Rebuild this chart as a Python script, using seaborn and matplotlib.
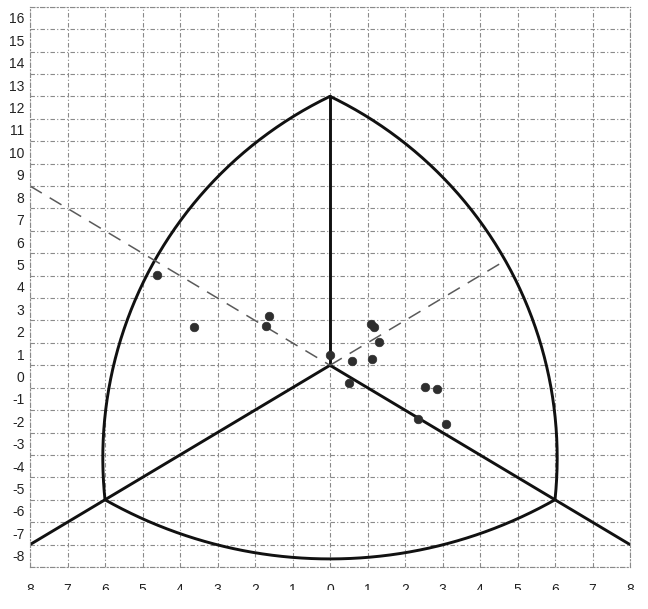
import numpy as np
import matplotlib
matplotlib.use("Agg")
import matplotlib.pyplot as plt
import seaborn as sns
from matplotlib.transforms import Bbox, TransformedBbox, blended_transform_factory

# Observations
obs_x = [-4.62, -3.62, -1.62, -1.71, 0.00, 0.58, 0.51, 1.09, 1.18, 1.30, 1.11, 2.54, 2.85, 2.34, 3.09]
obs_y = [4.53, 2.19, 2.71, 2.24, 0.94, 0.67, -0.27, 2.33, 2.19, 1.54, 0.78, -0.48, -0.56, -1.91, -2.12]

# Triangle frame: centre, apex, lower-left and lower-right corners
centre = (0.0, 0.5)
apex = (0.0, 12.5)
corner_left = (-6.0, -5.5)
corner_right = (6.0, -5.5)
# ends of the lower spokes (extended past the corners)
spoke_left_end = (-8.0, -7.5)
spoke_right_end = (8.0, -7.5)
# dashed bisectors
dash_left = [(-8.0, 8.5), (0.0, 0.5)]
dash_right = [(0.0, 0.5), (4.65, 5.15)]
# arc radii (in x units, measured on the page)
arc_radius_side = 10.7
arc_radius_base = 12.2

x_ticks = list(range(-8, 9))
y_ticks = list(range(-8, 17))

sns.set_style("white")
plt.rcParams["font.family"] = ["Liberation Sans", "DejaVu Sans"]

fig = plt.figure(figsize=(6.48, 6.09), dpi=100)
ax = fig.add_axes([30 / 648, 1 - 567 / 609, 600 / 648, 560.3 / 609])
ax.set_xlim(-8, 8)
ax.set_ylim(-8.5, 16.5)

grid_kw = dict(color="#8a8a8a", lw=0.8, linestyle=(0, (4, 2, 1, 2)))
ax.set_xticks(x_ticks)
ax.set_xticklabels([])
ax.set_yticks(y_ticks)
ax.set_yticklabels([str(v) for v in y_ticks], fontsize=10, color="#222222")
ax.set_yticks(np.arange(y_ticks[0] - 0.5, y_ticks[-1] + 1, 1), minor=True)
ax.tick_params(which="both", length=0)
ax.tick_params(axis="y", pad=4)
ax.xaxis.grid(True, which="major", **grid_kw)
ax.yaxis.grid(True, which="minor", **grid_kw)
ax.yaxis.grid(False, which="major")
for s in ax.spines.values():
    s.set_color("#8a8a8a")
    s.set_linewidth(0.8)
    s.set_linestyle((0, (4, 2, 1, 2)))
ax.set_axisbelow(True)

# ratio of screen length per y unit to screen length per x unit
p = ax.transData.transform([[0, 0], [1, 1]])
k = (p[1, 1] - p[0, 1]) / (p[1, 0] - p[0, 0])


def arc(pa, pb, radius, inside, n=240):
    P = np.array([pa[0], pa[1] * k])
    Q = np.array([pb[0], pb[1] * k])
    I = np.array([inside[0], inside[1] * k])
    M = (P + Q) / 2
    chord = Q - P
    half = np.linalg.norm(chord) / 2
    nrm = np.array([-chord[1], chord[0]]) / np.linalg.norm(chord)
    if np.dot(I - M, nrm) < 0:
        nrm = -nrm
    O = M + nrm * np.sqrt(radius ** 2 - half ** 2)
    a0 = np.arctan2(P[1] - O[1], P[0] - O[0])
    a1 = np.arctan2(Q[1] - O[1], Q[0] - O[0])
    da = (a1 - a0 + np.pi) % (2 * np.pi) - np.pi
    ang = a0 + da * np.linspace(0, 1, n)
    return O[0] + radius * np.cos(ang), (O[1] + radius * np.sin(ang)) / k


solid = dict(color="#111111", lw=2.1, sort=False, estimator=None, legend=False)
for pa, pb, r in [(apex, corner_left, arc_radius_side),
                  (corner_left, corner_right, arc_radius_base),
                  (corner_right, apex, arc_radius_side)]:
    xs, ys = arc(pa, pb, r, centre)
    sns.lineplot(x=xs, y=ys, ax=ax, **solid)

for a, b in [(centre, apex), (spoke_left_end, centre), (centre, spoke_right_end)]:
    sns.lineplot(x=[a[0], b[0]], y=[a[1], b[1]], ax=ax, **solid)

for seg in (dash_left, dash_right):
    ax.plot([seg[0][0], seg[1][0]], [seg[0][1], seg[1][1]], color="#5a5a5a",
            lw=1.1, dashes=(9, 6))

sns.scatterplot(x=obs_x, y=obs_y, ax=ax, s=38, color="#2e2e2e",
                edgecolor="#2e2e2e", linewidth=0.5, zorder=5)

# x labels along the bottom, cut off at the lower edge
trans = blended_transform_factory(ax.transData, fig.transFigure)
clip = TransformedBbox(Bbox([[0, 1 - 590 / 609], [1, 1]]), fig.transFigure)
for v in x_ticks:
    t = fig.text(v, 1 - 594.5 / 609, str(abs(v)), transform=trans, ha="center",
                 va="baseline", fontsize=10, color="#222222")
    t.set_clip_path(None)
    t.set_clip_box(clip)
    t.set_clip_on(True)

fig.savefig("out.png", dpi=100)
